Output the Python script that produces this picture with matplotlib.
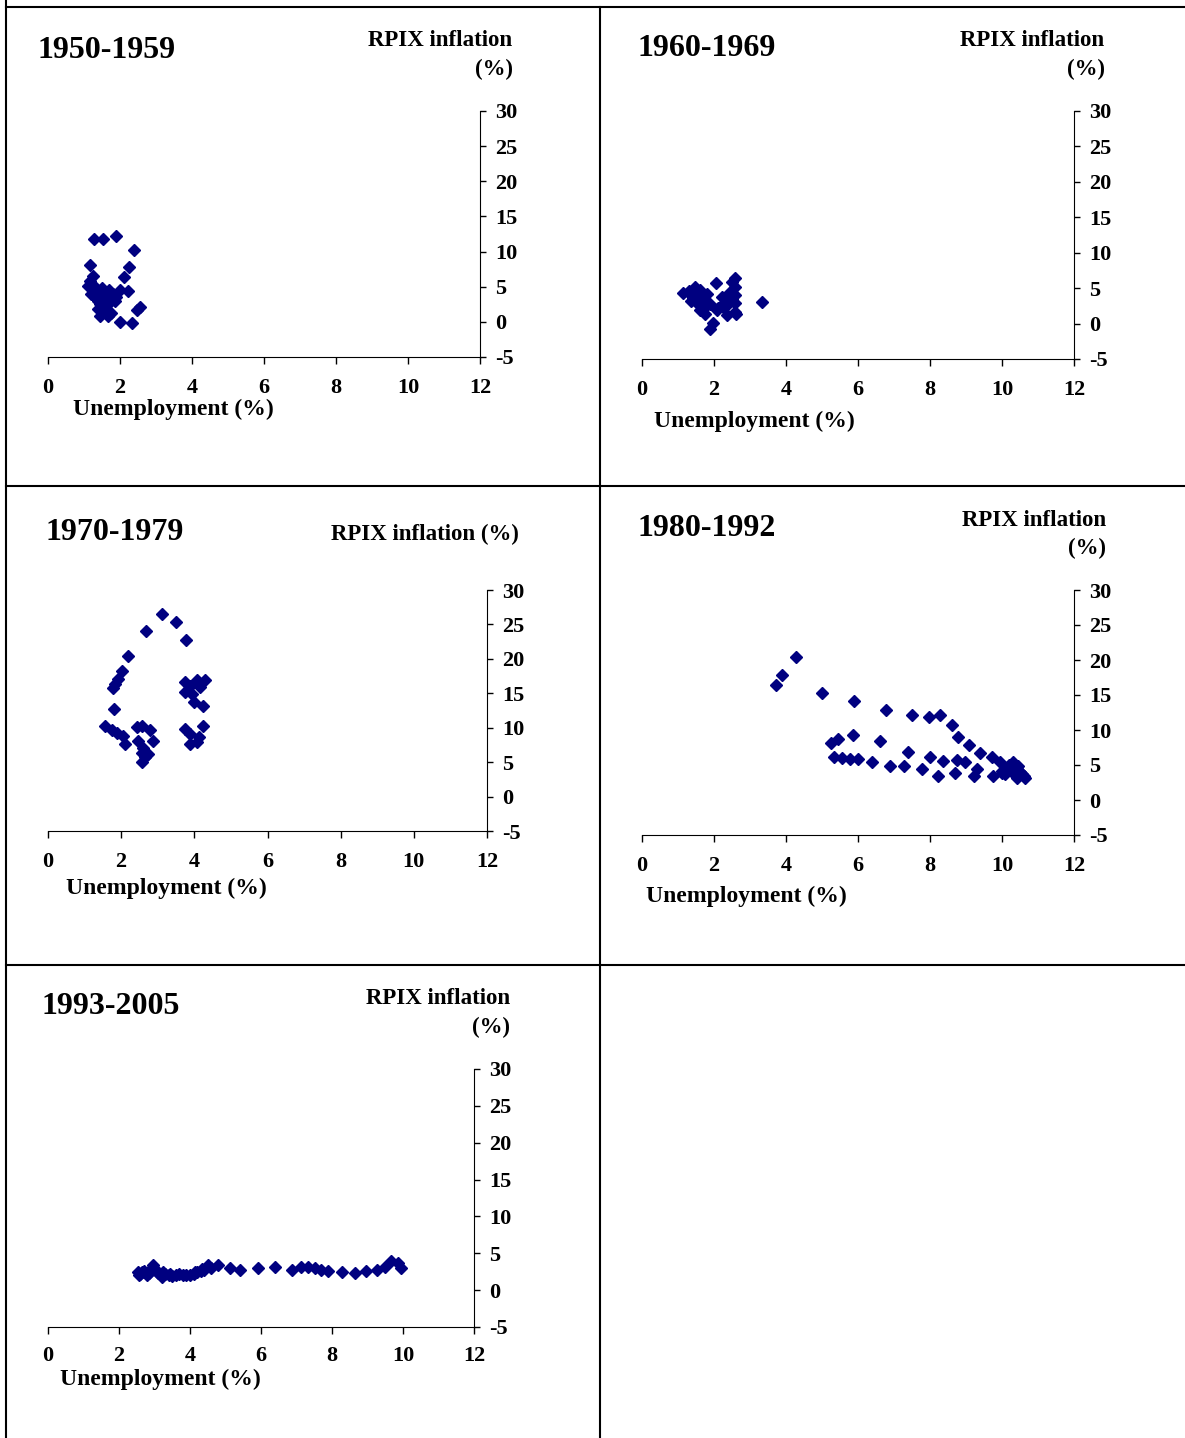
import matplotlib
matplotlib.use("Agg")
import matplotlib.pyplot as plt
from matplotlib.lines import Line2D

plt.rcParams['font.family'] = ['Liberation Serif', 'DejaVu Serif']
plt.rcParams['font.weight'] = 'bold'
plt.rcParams['axes.unicode_minus'] = False

W, H = 1185, 1438

# ---- data (unemployment %, RPIX inflation %) ----
u_1950s = [1.27, 1.53, 1.89, 2.40, 1.17, 2.26, 2.11, 1.17, 1.12, 2.00, 2.23, 1.45, 1.68, 2.00,
           2.32, 2.46, 2.56, 1.20, 1.30, 1.35, 1.40, 1.45, 1.50, 1.50, 1.55, 1.60, 1.65, 1.65,
           1.70, 1.75, 1.80, 1.85, 1.30, 1.40, 1.60, 1.75, 1.90, 1.25, 1.70, 1.55]
p_1950s = [11.8, 11.8, 12.2, 10.2, 8.1, 7.8, 6.4, 5.8, 5.1, 4.6, 4.4, 0.8, 0.8, 0.0,
           -0.2, 1.7, 2.1, 4.0, 3.5, 4.5, 3.0, 2.5, 3.8, 4.8, 2.0, 3.2, 4.2, 1.5,
           2.7, 3.6, 4.0, 3.0, 5.0, 1.8, 2.4, 1.2, 3.5, 6.5, 4.5, 2.9]

u_1960s = [1.15, 1.47, 1.66, 1.43, 1.80, 1.61, 2.06, 2.21, 2.07, 1.89, 1.97, 2.58, 2.58, 2.58,
           2.58, 2.58, 2.44, 2.35, 3.32, 2.25, 1.30, 1.50, 1.70, 1.55, 1.80, 2.40, 2.50, 2.60,
           1.90, 1.40, 1.35, 1.60, 2.30, 2.50, 1.75, 2.10]
p_1960s = [4.3, 5.2, 3.6, 3.6, 2.6, 1.9, 5.7, 3.8, 1.9, -0.7, 0.1, 6.4, 5.2, 4.0,
           2.9, 1.7, 4.5, 1.2, 3.1, 2.4, 4.6, 3.0, 2.2, 4.0, 4.2, 2.8, 3.4, 1.3,
           2.8, 3.9, 3.2, 4.8, 3.0, 5.8, 1.4, 2.2]

u_1970s = [3.11, 3.50, 2.68, 3.77, 2.19, 2.03, 1.92, 1.83, 1.79, 1.81, 1.56, 1.74, 1.88, 2.06,
           2.11, 2.42, 2.56, 2.79, 2.88, 2.47, 2.61, 2.56, 2.65, 2.56, 2.74, 3.75, 3.89, 4.07,
           4.30, 3.75, 3.93, 3.98, 4.25, 4.16, 3.75, 3.89, 3.89, 4.12, 4.24, 4.07]
p_1970s = [26.5, 25.4, 24.1, 22.7, 20.4, 18.3, 17.1, 16.4, 15.8, 12.7, 10.3, 9.6, 9.3, 8.8,
           7.7, 10.1, 10.3, 9.6, 8.1, 8.1, 7.1, 6.4, 5.7, 5.0, 6.2, 16.6, 16.1, 16.9,
           16.9, 15.2, 14.9, 13.7, 13.2, 15.9, 9.8, 9.1, 7.6, 8.6, 10.2, 7.9]

u_1980s = [4.28, 3.88, 3.71, 4.99, 5.89, 6.78, 7.49, 7.98, 8.28, 8.60, 8.79, 9.09, 9.39, 9.71,
           9.94, 10.31, 10.18, 10.41, 10.55, 10.64, 10.41, 10.08, 9.76, 9.99, 9.23, 9.30, 8.97,
           8.74, 8.69, 8.37, 8.23, 8.00, 7.77, 7.38, 7.28, 6.89, 6.61, 6.40, 5.99, 5.87, 5.79,
           5.56, 5.32, 5.44, 5.26, 10.20, 10.45, 10.50, 10.00, 10.30, 10.60]
p_1980s = [20.5, 17.9, 16.5, 15.3, 14.2, 12.8, 12.2, 11.8, 12.1, 10.7, 9.0, 7.9, 6.7, 6.1,
           5.4, 5.4, 4.6, 4.4, 3.7, 3.2, 3.2, 3.7, 3.5, 4.2, 3.5, 4.4, 5.4,
           5.7, 3.8, 5.6, 3.5, 6.2, 4.4, 6.8, 4.9, 4.9, 8.5, 5.5, 5.9, 9.3, 5.9,
           6.0, 6.1, 8.7, 8.1, 5.0, 4.9, 4.0, 3.9, 3.8, 3.5]

u_1990s = [2.54, 2.97, 4.51, 4.80, 5.13, 5.41, 5.91, 6.39, 6.86, 7.14, 7.33, 7.52, 7.70, 7.89,
           8.27, 8.65, 8.97, 9.26, 9.49, 9.67, 9.86, 9.95, 2.60, 2.70, 2.80, 2.90, 3.00, 3.10,
           3.20, 3.30, 3.40, 3.50, 3.60, 3.70, 3.80, 3.90, 4.00, 4.10, 4.20, 4.30, 4.40, 4.60,
           2.55, 2.65, 2.85, 3.05, 3.25, 3.45, 4.15, 4.35]
p_1990s = [2.5, 3.4, 3.4, 3.4, 3.0, 2.7, 3.0, 3.2, 2.8, 3.1, 3.1, 3.0, 2.7, 2.6,
           2.4, 2.3, 2.6, 2.8, 3.2, 4.0, 3.7, 3.0, 2.2, 2.6, 2.0, 2.9, 3.0, 2.3,
           1.8, 2.2, 2.0, 1.9, 2.1, 2.2, 2.0, 2.1, 2.0, 2.2, 2.4, 2.6, 2.8, 3.0,
           2.0, 2.5, 2.3, 2.6, 2.5, 2.2, 2.5, 2.9]

x_ticks = [0, 2, 4, 6, 8, 10, 12]
y_ticks = [-5, 0, 5, 10, 15, 20, 25, 30]

# panel layout in pixels: axes box (left, top, right, bottom), title pos, y-label lines, x-label pos
panels = [
    dict(u=u_1950s, p=p_1950s, title="1950-1959", box=(48, 111, 480, 357), xpad=10,
         tpos=(37, 50), ylab=[("RPIX inflation", 512, 41), ("(%)", 513, 69)], xpos=(73, 409)),
    dict(u=u_1960s, p=p_1960s, title="1960-1969", box=(642, 111, 1074, 359), xpad=10,
         tpos=(637, 48), ylab=[("RPIX inflation", 1104, 41), ("(%)", 1105, 69)], xpos=(654, 421)),
    dict(u=u_1970s, p=p_1970s, title="1970-1979", box=(48, 590, 487, 831), xpad=10,
         tpos=(45, 533), ylab=[("RPIX inflation (%)", 519, 534)], xpos=(66, 888)),
    dict(u=u_1980s, p=p_1980s, title="1980-1992", box=(642, 590, 1074, 835), xpad=10,
         tpos=(637, 529), ylab=[("RPIX inflation", 1106, 520), ("(%)", 1106, 548)], xpos=(646, 896)),
    dict(u=u_1990s, p=p_1990s, title="1993-2005", box=(48, 1069, 474, 1327), xpad=8.5,
         tpos=(42, 1006), ylab=[("RPIX inflation", 510, 999), ("(%)", 510, 1027)], xpos=(60, 1379)),
]

fig = plt.figure(figsize=(W / 100, H / 100), dpi=100)
fig.patch.set_facecolor('white')


def fx(px):
    return px / W


def fy(py):
    return 1 - py / H


for pn in panels:
    l, t, r, b = pn['box']
    ax = fig.add_axes([fx(l), fy(b), (r - l) / W, (b - t) / H])
    ax.plot(pn['u'], pn['p'], 'D', color='#000080', ms=6.4, mec='#000080', clip_on=False)
    ax.set_xlim(0, 12)
    ax.set_ylim(-5, 30)
    ax.set_xticks(x_ticks)
    ax.set_yticks(y_ticks)
    ax.spines['top'].set_visible(False)
    ax.spines['left'].set_visible(False)
    ax.yaxis.tick_right()
    ax.tick_params(axis='x', direction='out', length=5, width=1, pad=pn['xpad'], labelsize=16)
    ax.tick_params(axis='y', direction='out', length=4, width=1, pad=7, labelsize=16)
    for lab in ax.get_xticklabels() + ax.get_yticklabels():
        lab.set_fontweight('bold')
    ax.patch.set_alpha(0)

    fig.text(fx(pn['tpos'][0]), fy(pn['tpos'][1]), pn['title'], fontsize=23,
             fontweight='bold', ha='left', va='center')
    for txt, xr, yc in pn['ylab']:
        fig.text(fx(xr), fy(yc), txt, fontsize=16.5, fontweight='bold', ha='right', va='center')
    fig.text(fx(pn['xpos'][0]), fy(pn['xpos'][1]), "Unemployment (%)", fontsize=17,
             fontweight='bold', ha='left', va='center')

# table-like frame lines
frame = [
    ((6, 6), (0, H)),
    ((600, 600), (7, H)),
    ((6, W), (7, 7)),
    ((6, W), (486, 486)),
    ((6, W), (965, 965)),
]
for xs, ys in frame:
    fig.add_artist(Line2D([fx(v) for v in xs], [fy(v) for v in ys],
                          transform=fig.transFigure, color='black', lw=1.5))

fig.savefig("out.png", dpi=100)
